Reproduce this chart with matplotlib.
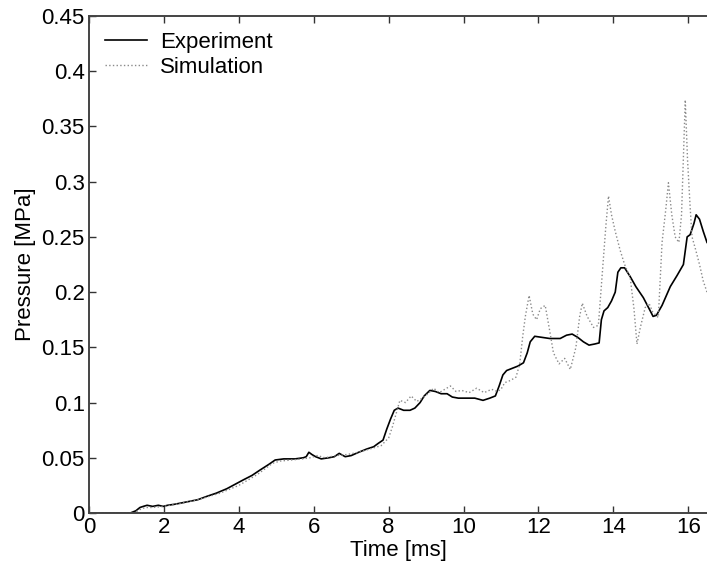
import matplotlib
matplotlib.use("Agg")
import matplotlib.pyplot as plt

# --- datos ---
exp_t = [0, 1.1, 1.25, 1.36, 1.45, 1.55, 1.7, 1.85, 1.98, 2.1, 2.3, 2.6, 2.9, 3.14,
         3.4, 3.68, 3.9, 4.12, 4.35, 4.57, 4.8, 4.97, 5.2, 5.5, 5.72, 5.8, 5.87,
         5.95, 6.05, 6.2, 6.4, 6.55, 6.68, 6.84, 7.0, 7.2, 7.42, 7.6, 7.72, 7.85,
         7.95, 8.05, 8.15, 8.25, 8.4, 8.57, 8.7, 8.84, 8.95, 9.1, 9.25, 9.4, 9.56,
         9.7, 9.86, 10.1, 10.3, 10.52, 10.7, 10.85, 10.95, 11.05, 11.15, 11.3,
         11.45, 11.6, 11.7, 11.78, 11.9, 12.1, 12.3, 12.58, 12.75, 12.9, 13.05,
         13.2, 13.35, 13.5, 13.62, 13.68, 13.75, 13.85, 13.95, 14.05, 14.12, 14.2,
         14.3, 14.45, 14.6, 14.8, 15.0, 15.06, 15.15, 15.3, 15.52, 15.7, 15.87,
         15.93, 15.97, 16.05, 16.15, 16.21, 16.3, 16.4, 16.5]
exp_p = [0, 0, 0.002, 0.005, 0.006, 0.007, 0.006, 0.007, 0.006, 0.007, 0.008, 0.010,
         0.012, 0.015, 0.018, 0.022, 0.026, 0.030, 0.034, 0.039, 0.044, 0.048,
         0.049, 0.049, 0.050, 0.051, 0.055, 0.053, 0.051, 0.049, 0.050, 0.051,
         0.054, 0.051, 0.052, 0.055, 0.058, 0.060, 0.063, 0.066, 0.076, 0.085,
         0.093, 0.095, 0.093, 0.093, 0.095, 0.100, 0.106, 0.111, 0.110, 0.108,
         0.108, 0.105, 0.104, 0.104, 0.104, 0.102, 0.104, 0.106, 0.115, 0.125,
         0.129, 0.131, 0.133, 0.136, 0.145, 0.155, 0.160, 0.159, 0.158, 0.158,
         0.161, 0.162, 0.159, 0.155, 0.152, 0.153, 0.154, 0.175, 0.183, 0.186,
         0.192, 0.200, 0.218, 0.222, 0.222, 0.214, 0.205, 0.195, 0.182, 0.178,
         0.179, 0.188, 0.205, 0.215, 0.225, 0.240, 0.250, 0.252, 0.262, 0.270,
         0.266, 0.255, 0.245]

sim_t = [0, 1.2, 1.35, 1.5, 1.7, 2.0, 2.5, 3.0, 3.5, 4.0, 4.5, 4.9, 5.1, 5.4, 5.7,
         5.9, 6.1, 6.3, 6.6, 6.9, 7.2, 7.5, 7.8, 8.0, 8.1, 8.2, 8.3, 8.45, 8.6,
         8.75, 8.9, 9.05, 9.2, 9.35, 9.5, 9.65, 9.8, 9.95, 10.15, 10.35, 10.55,
         10.75, 10.9, 11.0, 11.1, 11.25, 11.4, 11.5, 11.58, 11.65, 11.75, 11.85,
         11.95, 12.05, 12.18, 12.3, 12.4, 12.55, 12.7, 12.85, 13.0, 13.1, 13.17,
         13.3, 13.47, 13.6, 13.7, 13.8, 13.87, 13.95, 14.05, 14.18, 14.3, 14.45,
         14.55, 14.63, 14.72, 14.85, 14.95, 15.05, 15.2, 15.3, 15.4, 15.47, 15.56,
         15.65, 15.75, 15.82, 15.92, 15.98, 16.05, 16.1, 16.2, 16.3, 16.4, 16.5]
sim_p = [0, 0, 0.003, 0.005, 0.005, 0.006, 0.009, 0.013, 0.018, 0.025, 0.035,
         0.045, 0.047, 0.048, 0.049, 0.050, 0.052, 0.050, 0.052, 0.053, 0.055,
         0.058, 0.061, 0.068, 0.078, 0.090, 0.102, 0.100, 0.106, 0.101, 0.104,
         0.108, 0.113, 0.109, 0.112, 0.115, 0.110, 0.111, 0.109, 0.113, 0.109,
         0.112, 0.110, 0.112, 0.118, 0.120, 0.123, 0.135, 0.160, 0.178, 0.197,
         0.180, 0.175, 0.185, 0.188, 0.165, 0.145, 0.135, 0.140, 0.130, 0.150,
         0.178, 0.190, 0.178, 0.168, 0.170, 0.215, 0.260, 0.287, 0.270, 0.255,
         0.238, 0.225, 0.213, 0.185, 0.153, 0.168, 0.186, 0.190, 0.182, 0.177,
         0.245, 0.275, 0.299, 0.270, 0.250, 0.245, 0.270, 0.374, 0.320, 0.277,
         0.250, 0.238, 0.225, 0.210, 0.200]

x_ticks = [0, 2, 4, 6, 8, 10, 12, 14, 16]
y_ticks = [0, 0.05, 0.1, 0.15, 0.2, 0.25, 0.3, 0.35, 0.4, 0.45]
y_labels = ["0", "0.05", "0.1", "0.15", "0.2", "0.25", "0.3", "0.35", "0.4", "0.45"]

plt.rcParams['font.family'] = ['Liberation Sans', 'DejaVu Sans']
plt.rcParams['font.size'] = 16

fig = plt.figure(figsize=(7.07, 5.69), dpi=100)
ax = fig.add_axes([0.1259, 0.0984, 0.8741, 0.8735])

ax.plot(exp_t, exp_p, color='black', linestyle='-', linewidth=1.2, label='Experiment')
ax.plot(sim_t, sim_p, color='#8a8a8a', linestyle=':', linewidth=1.0, label='Simulation')

ax.set_xlim(0, 16.5)
ax.set_ylim(0, 0.45)
ax.set_xticks(x_ticks)
ax.set_yticks(y_ticks)
ax.set_yticklabels(y_labels)
ax.tick_params(direction='in', length=5, width=1, colors='#333333',
               labelcolor='black', top=True, right=False, pad=3)

for side in ['left', 'bottom', 'top']:
    ax.spines[side].set_color('#444444')
    ax.spines[side].set_linewidth(1.4)
ax.spines['right'].set_visible(False)

ax.set_xlabel('Time [ms]', labelpad=1)
ax.set_ylabel('Pressure [MPa]', labelpad=4)

ax.legend(loc='upper left', frameon=False, handlelength=1.9, handletextpad=0.6,
          labelspacing=0.2, borderaxespad=0.3, bbox_to_anchor=(0.0, 1.0))

fig.savefig('out.png', dpi=100)
